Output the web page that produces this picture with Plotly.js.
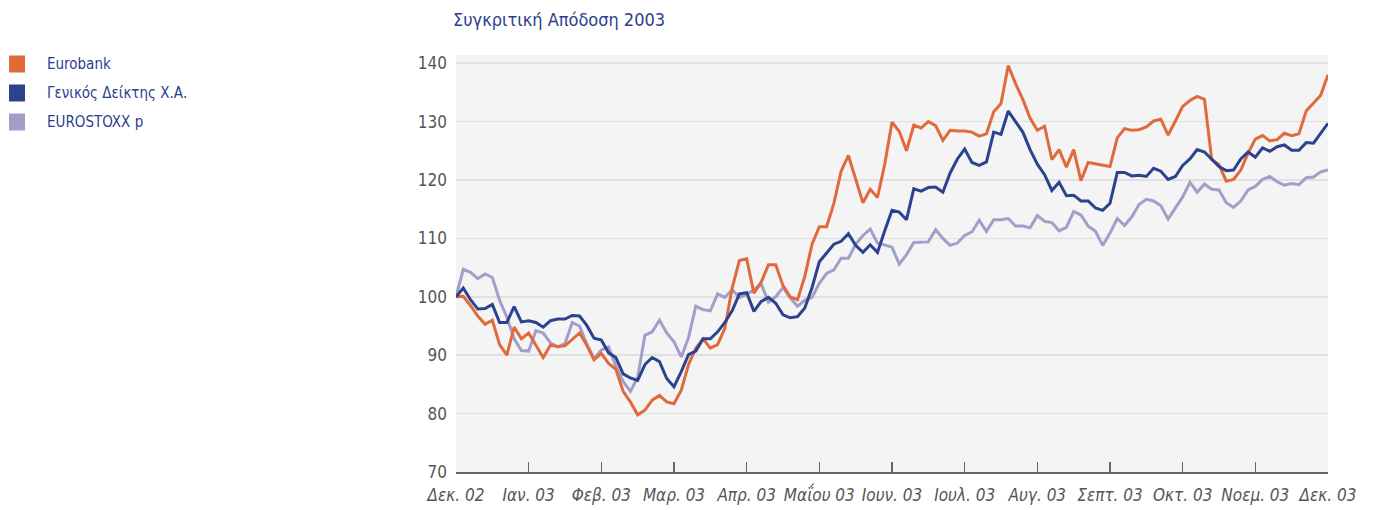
<!DOCTYPE html>
<html>
<head>
<meta charset="utf-8">
<script src="https://cdn.plot.ly/plotly-3.0.1.min.js"></script>
<style>
  html, body { margin: 0; padding: 0; background: #ffffff; }
  #chart { width: 1374px; height: 510px; }
</style>
</head>
<body>
<div id="chart"></div>
<script>
// Month tick labels (Dec 2002 .. Dec 2003)
const monthLabels = ['Δεκ. 02','Ιαν. 03','Φεβ. 03','Μαρ. 03','Απρ. 03','Μαΐου 03','Ιουν. 03','Ιουλ. 03','Αυγ. 03','Σεπτ. 03','Οκτ. 03','Νοεμ. 03','Δεκ. 03'];

const seriesNames = ['Eurobank', 'Γενικός Δείκτης Χ.Α.', 'EUROSTOXX p'];

// Values read every 0.1 month from Dec 02 to Dec 03 (base 100)
const eurobank = [
 100.0,100.1,98.5,96.7,95.3,96.0,91.8,90.0,94.8,92.8,
 93.8,91.8,89.6,91.7,91.5,91.6,92.7,93.8,91.7,89.2,
 90.3,88.6,87.6,83.8,82.0,79.8,80.6,82.3,83.1,82.0,
 81.7,84.0,88.4,91.2,92.8,91.2,91.8,94.6,101.5,106.2,
 106.5,100.6,102.5,105.5,105.5,101.9,100.0,99.5,103.5,109.0,
 112.0,112.0,116.0,121.5,124.2,120.0,116.1,118.4,117.0,122.7,
 129.9,128.3,125.0,129.4,128.9,130.0,129.3,126.8,128.5,128.4,
 128.4,128.2,127.5,127.9,131.7,133.1,139.6,136.5,133.8,130.6,
 128.5,129.2,123.5,125.2,122.2,125.2,119.9,123.0,122.8,122.6,
 122.3,127.2,128.8,128.5,128.6,129.1,130.1,130.4,127.7,130.1,
 132.6,133.6,134.3,133.8,123.5,122.6,119.8,120.1,121.7,124.6,
 127.0,127.6,126.7,126.9,128.0,127.6,127.9,131.8,133.2,134.5,
 138.0
];

const genikos = [
 100.0,101.5,99.5,97.9,98.0,98.7,95.6,95.6,98.3,95.7,
 95.9,95.6,94.8,95.9,96.2,96.2,96.8,96.7,95.1,92.9,
 92.6,90.4,89.6,86.8,86.1,85.7,88.4,89.6,88.9,86.0,
 84.6,87.2,90.1,90.7,92.8,92.8,94.0,95.6,97.6,100.5,
 100.7,97.5,99.2,99.9,98.9,96.9,96.4,96.6,98.1,101.6,
 106.0,107.5,109.0,109.5,110.8,108.8,107.6,108.9,107.6,111.3,
 114.8,114.5,113.2,118.5,118.1,118.7,118.8,117.9,121.2,123.6,
 125.3,123.0,122.5,123.1,128.2,127.8,131.8,130.0,128.2,125.2,
 122.7,120.9,118.2,119.6,117.3,117.4,116.4,116.4,115.2,114.8,
 116.0,121.3,121.3,120.7,120.8,120.6,122.0,121.5,120.1,120.6,
 122.5,123.6,125.2,124.8,123.6,122.3,121.6,121.7,123.6,124.8,
 123.9,125.5,124.9,125.7,126.0,125.1,125.1,126.4,126.3,128.1,
 129.7
];

const eurostoxx = [
 100.0,104.7,104.2,103.1,103.9,103.3,99.4,96.5,92.8,90.8,
 90.7,94.2,93.8,92.1,91.4,92.0,95.6,95.0,91.9,89.4,
 90.9,91.4,88.1,85.5,83.8,86.2,93.4,94.0,96.0,93.8,
 92.3,89.7,93.0,98.4,97.8,97.6,100.5,99.9,101.2,99.9,
 100.4,101.2,102.2,99.1,100.0,101.6,99.8,98.4,99.4,99.9,
 102.3,104.0,104.6,106.6,106.6,109.0,110.5,111.6,109.2,108.9,
 108.5,105.6,107.2,109.3,109.3,109.4,111.5,110.0,108.8,109.2,
 110.5,111.1,113.1,111.2,113.2,113.2,113.4,112.1,112.1,111.8,
 113.9,112.9,112.7,111.3,111.9,114.6,114.0,112.1,111.2,108.8,
 110.9,113.4,112.2,113.7,115.8,116.7,116.4,115.6,113.3,115.2,
 117.1,119.6,117.9,119.3,118.4,118.3,116.1,115.3,116.4,118.3,
 118.9,120.1,120.6,119.7,119.1,119.4,119.2,120.4,120.5,121.4,
 121.7
];

const yTicks = [70, 80, 90, 100, 110, 120, 130, 140];

const colors = ['#e06a3b', '#2b438f', '#a29ec9'];
const textNavy = '#2c3f8c';
const FONT = '"Liberation Sans Narrow", "DejaVu Sans Condensed", "Roboto", sans-serif';

// time position in months since Dec 02
const monthPos = eurobank.map((_, i) => i * (monthLabels.length - 1) / (eurobank.length - 1));

const allSeries = [eurobank, genikos, eurostoxx];
const traces = allSeries.map((vals, i) => ({
  type: 'scatter',
  mode: 'lines',
  x: monthPos,
  y: vals,
  name: seriesNames[i],
  line: { color: colors[i], width: 3 },
  showlegend: false,
  hoverinfo: 'skip'
}));
// draw order: stoxx at back, then eurobank, then genikos on top
const ordered = [traces[2], traces[0], traces[1]];

// layout geometry (pixels)
const W = 1374, H = 510;
const M = { l: 456, r: 46, t: 55, b: 38 };
const pw = W - M.l - M.r, ph = H - M.t - M.b;
const px2x = p => (p - M.l) / pw;
const py2y = p => (H - M.b - p) / ph;

const shapes = [];
const annotations = [];
const legendY = [64, 93, 122];
seriesNames.forEach((nm, i) => {
  shapes.push({
    type: 'rect', xref: 'paper', yref: 'paper',
    x0: px2x(9), x1: px2x(25), y0: py2y(legendY[i] + 8.5), y1: py2y(legendY[i] - 8.5),
    fillcolor: colors[i], line: { width: 0 }
  });
  annotations.push({
    xref: 'paper', yref: 'paper', x: px2x(45), y: py2y(legendY[i]),
    xanchor: 'left', yanchor: 'middle', showarrow: false,
    text: nm, font: { family: FONT, size: 15, color: textNavy }
  });
});

const layout = {
  width: W, height: H,
  margin: M,
  paper_bgcolor: '#ffffff',
  plot_bgcolor: '#f4f4f4',
  font: { family: FONT },
  title: {
    text: 'Συγκριτική Απόδοση 2003',
    xref: 'container', yref: 'container',
    x: 453 / W, xanchor: 'left',
    y: 1 - 20 / H, yanchor: 'middle',
    font: { family: FONT, size: 18, color: textNavy }
  },
  xaxis: {
    type: 'linear',
    range: [0, monthLabels.length - 1],
    tickvals: monthLabels.map((_, i) => i),
    ticktext: monthLabels,
    ticks: 'inside', ticklen: 10, tickwidth: 1.5, tickcolor: '#666666',
    showline: true, linecolor: '#666666', linewidth: 2,
    showgrid: false, zeroline: false,
    tickfont: { family: FONT, size: 17, color: '#555555', style: 'italic' },
    ticklabelstandoff: 7,
    fixedrange: true
  },
  yaxis: {
    range: [70, 141.4],
    tickvals: yTicks,
    ticktext: yTicks.map(String),
    showgrid: true, gridcolor: '#e0e0e0', gridwidth: 1.5,
    zeroline: false, showline: false, ticks: '',
    tickfont: { family: FONT, size: 17, color: '#555555' },
    ticklabelstandoff: 8,
    fixedrange: true
  },
  shapes: shapes,
  annotations: annotations,
  showlegend: false
};

Plotly.newPlot('chart', ordered, layout, { displayModeBar: false, staticPlot: true });
</script>
</body>
</html>
